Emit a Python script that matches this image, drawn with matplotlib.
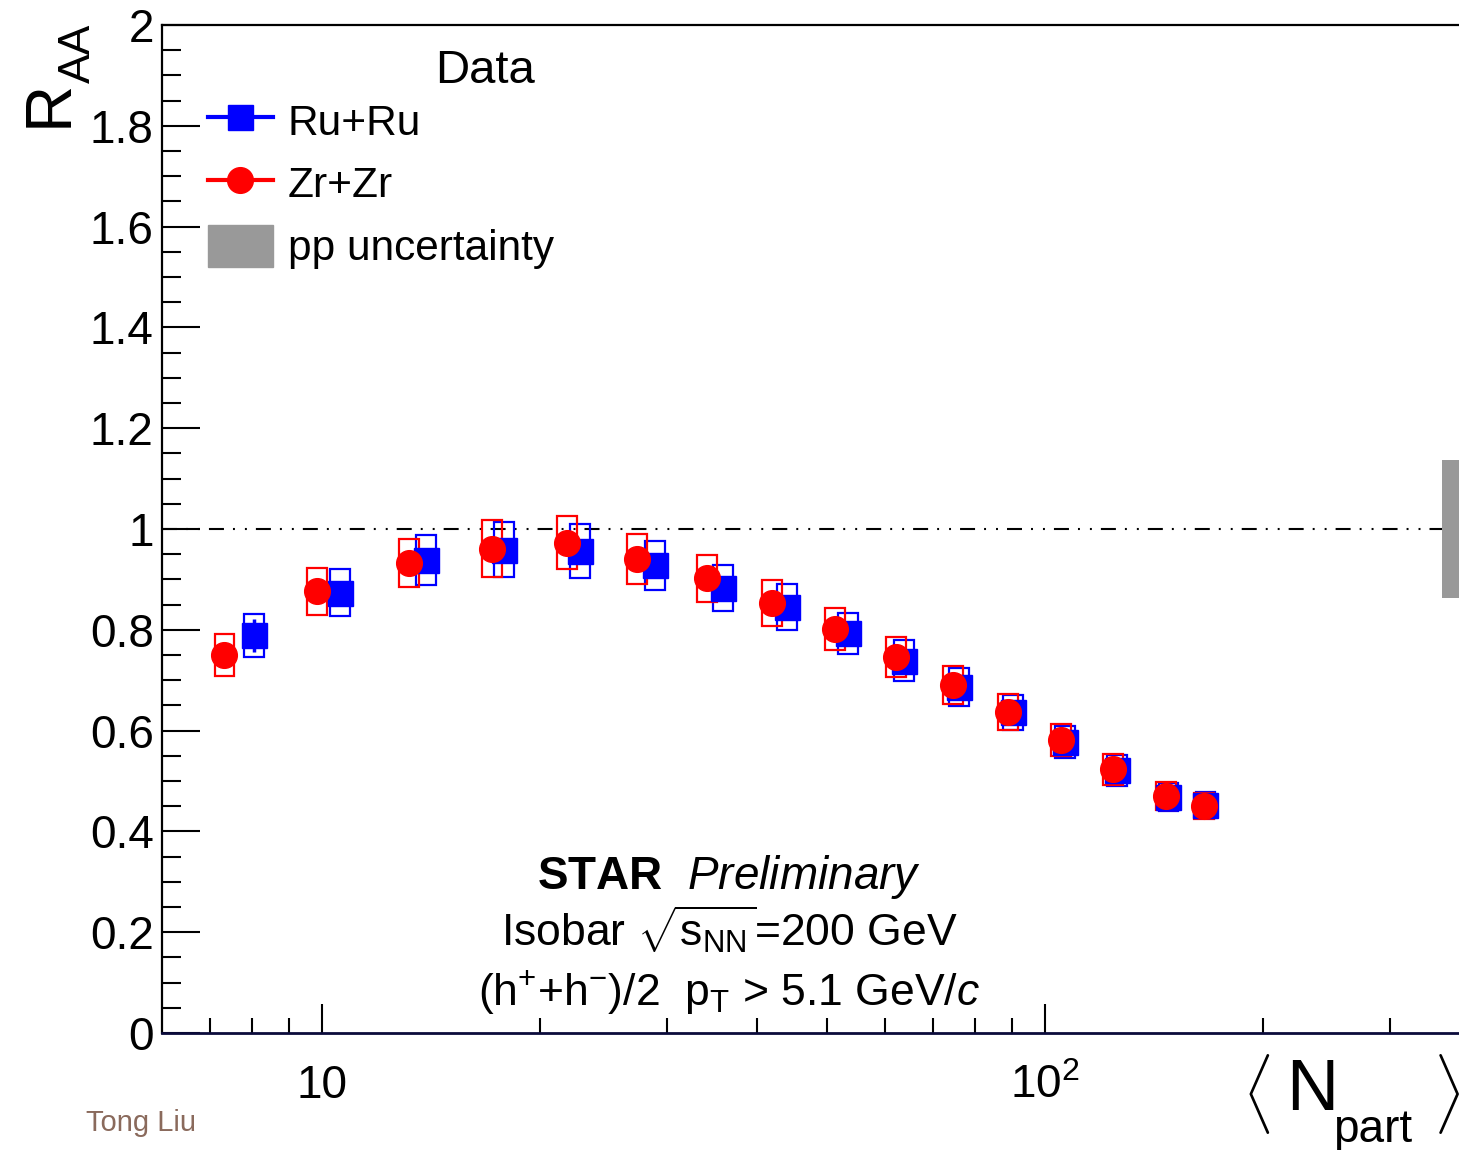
import numpy as np
import matplotlib
matplotlib.use("Agg")
import matplotlib.pyplot as plt
from matplotlib.patches import Rectangle
from matplotlib.lines import Line2D
from matplotlib.ticker import FixedLocator, NullFormatter, FixedFormatter
import matplotlib.transforms as mtransforms

plt.rcParams['font.family'] = ['Liberation Sans', 'DejaVu Sans']
plt.rcParams['mathtext.fontset'] = 'custom'
plt.rcParams['mathtext.rm'] = 'Liberation Sans'
plt.rcParams['mathtext.it'] = 'Liberation Sans:italic'
plt.rcParams['mathtext.bf'] = 'Liberation Sans:bold'
plt.rcParams['lines.scale_dashes'] = False

# Ru+Ru: <Npart>, RAA, stat and syst errors
ru_npart = [8.05, 10.57, 13.91, 17.82, 22.74, 28.84, 35.85, 43.98,
            53.41, 63.83, 76.05, 90.31, 106.6, 125.8, 148.2, 166.7]
ru_raa = [0.789, 0.874, 0.939, 0.959, 0.956, 0.928, 0.883, 0.845,
          0.793, 0.739, 0.687, 0.636, 0.578, 0.521, 0.469, 0.453]
ru_stat = [0.033, 0.022, 0.018, 0.016, 0.014, 0.013, 0.012, 0.011,
           0.010, 0.009, 0.008, 0.008, 0.007, 0.007, 0.006, 0.006]
ru_sys = [0.042, 0.047, 0.050, 0.054, 0.053, 0.049, 0.046, 0.045,
          0.041, 0.040, 0.038, 0.034, 0.032, 0.030, 0.028, 0.026]

# Zr+Zr
zr_npart = [7.32, 9.83, 13.17, 17.16, 21.78, 27.28, 34.08, 41.93,
            51.23, 62.22, 74.60, 88.90, 105.2, 124.2, 147.1, 165.9]
zr_raa = [0.750, 0.876, 0.933, 0.961, 0.973, 0.940, 0.902, 0.853,
          0.802, 0.746, 0.691, 0.637, 0.582, 0.523, 0.470, 0.450]
zr_stat = [0.022, 0.018, 0.016, 0.014, 0.013, 0.012, 0.011, 0.010,
           0.009, 0.009, 0.008, 0.007, 0.007, 0.006, 0.006, 0.006]
zr_sys = [0.042, 0.047, 0.048, 0.056, 0.052, 0.050, 0.047, 0.046,
          0.042, 0.039, 0.038, 0.035, 0.032, 0.030, 0.028, 0.026]

pp_unc = 0.137

y_ticks = [0, 0.2, 0.4, 0.6, 0.8, 1.0, 1.2, 1.4, 1.6, 1.8, 2.0]
y_labels = ['0', '0.2', '0.4', '0.6', '0.8', '1', '1.2', '1.4', '1.6', '1.8', '2']
x_ticks = [10, 100]
x_labels = ['10', r'$10^{2}$']

W, H = 1459, 1150
fig = plt.figure(figsize=(W / 100, H / 100), dpi=100)
ax = fig.add_axes([162 / W, 1 - 1033 / H, (W - 162) / W, (1033 - 25) / H])
ax.set_xscale('log')
ax.set_xlim(6.0, 374)
ax.set_ylim(0, 2)

# systematic boxes (fixed width in log space)
bw = 1.032
for npart, raa, sys, col in [(ru_npart, ru_raa, ru_sys, 'blue'),
                             (zr_npart, zr_raa, zr_sys, 'red')]:
    for n, r, s in zip(npart, raa, sys):
        ax.add_patch(Rectangle((n / bw, r - s), n * bw - n / bw, 2 * s,
                               fill=False, edgecolor=col, lw=1.6, zorder=3))

ax.errorbar(ru_npart, ru_raa, yerr=ru_stat, fmt='s', color='blue', ms=18,
            elinewidth=2.5, capsize=0, zorder=4)
ax.errorbar(zr_npart, zr_raa, yerr=zr_stat, fmt='o', color='red', ms=18.5,
            elinewidth=2.5, capsize=0, zorder=5)

# unity line
ax.axhline(1.0, color='black', lw=1.5,
           dashes=(10.8, 6.5, 1.4, 7.2, 1.4, 6.5), zorder=2)

# pp normalisation uncertainty at right edge
trans = mtransforms.blended_transform_factory(ax.transAxes, ax.transData)
ax.add_patch(Rectangle((1 - 17 / (W - 162), 1 - pp_unc), 17 / (W - 162), 2 * pp_unc,
                       transform=trans, color='#999999', lw=0, zorder=2,
                       clip_on=False))

# axes style
ax.spines['right'].set_visible(False)
for s in ['left', 'top']:
    ax.spines[s].set_linewidth(1.6)
ax.spines['bottom'].set_linewidth(2.0)
ax.spines['bottom'].set_color('#0b0b3b')

ax.yaxis.set_major_locator(FixedLocator(y_ticks))
ax.yaxis.set_major_formatter(FixedFormatter(y_labels))
ax.yaxis.set_minor_locator(FixedLocator(np.arange(0, 2.001, 0.05)))
ax.tick_params(axis='y', which='major', direction='in', length=27, width=1.5,
               labelsize=33, pad=6, right=False)
ax.tick_params(axis='y', which='minor', direction='in', length=14, width=1.5,
               right=False)

minor_x = [7, 8, 9, 20, 30, 40, 50, 60, 70, 80, 90, 200, 300]
ax.xaxis.set_major_locator(FixedLocator(x_ticks))
ax.xaxis.set_major_formatter(FixedFormatter(x_labels))
ax.xaxis.set_minor_locator(FixedLocator(minor_x))
ax.xaxis.set_minor_formatter(NullFormatter())
ax.tick_params(axis='x', which='major', direction='in', length=21, width=1.5,
               labelsize=33, pad=22, top=False)
ax.tick_params(axis='x', which='minor', direction='in', length=11, width=1.5,
               top=False)

# axis titles
fig.text(50 / W, 1 - 103 / H, 'R', fontsize=47, rotation=90, ha='center', va='center')
fig.text(78 / W, 1 - 53 / H, 'AA', fontsize=32, rotation=90, ha='center', va='center')

fig.text(1256 / W, 1 - 1094 / H, r'$\langle$', fontsize=48, ha='center', va='center')
fig.text(1312 / W, 1 - 1091 / H, 'N', fontsize=52, ha='center', va='center')
fig.text(1373 / W, 1 - 1130 / H, 'part', fontsize=33, ha='center', va='center')
fig.text(1446 / W, 1 - 1094 / H, r'$\rangle$', fontsize=48, ha='center', va='center')

# legend
fig.text(485 / W, 1 - 71 / H, 'Data', fontsize=34, ha='center', va='center')
handles = [Line2D([], [], color='blue', marker='s', ms=18, lw=3),
           Line2D([], [], color='red', marker='o', ms=18.5, lw=3),
           Rectangle((0, 0), 1, 1, color='#999999')]
ax.legend(handles, ['Ru+Ru', 'Zr+Zr', 'pp uncertainty'], loc='upper left',
          bbox_to_anchor=(208 / W, 1 - 99 / H), bbox_transform=fig.transFigure,
          frameon=False, fontsize=30.5, handlelength=1.53, handleheight=1.17,
          handletextpad=0.35, labelspacing=0.43, borderpad=0, borderaxespad=0)

# annotations
fig.text(729 / W, 1 - 877 / H, r'$\mathbf{STAR}\ \ \mathit{Preliminary}$',
         fontsize=33, ha='center', va='center')
fig.text(729 / W, 1 - 930 / H, r'Isobar $\sqrt{\mathrm{s}_{\mathrm{NN}}}$=200 GeV',
         fontsize=32, ha='center', va='center')
fig.text(729 / W, 1 - 992 / H, r'(h$^{+}$+h$^{-}$)/2  p$_{\mathrm{T}}$ > 5.1 GeV/$\mathit{c}$',
         fontsize=32, ha='center', va='center')

fig.text(141 / W, 1 - 1123 / H, 'Tong Liu', fontsize=21, color='#8a6a5c',
         ha='center', va='center')

fig.savefig('out.png', dpi=100)
